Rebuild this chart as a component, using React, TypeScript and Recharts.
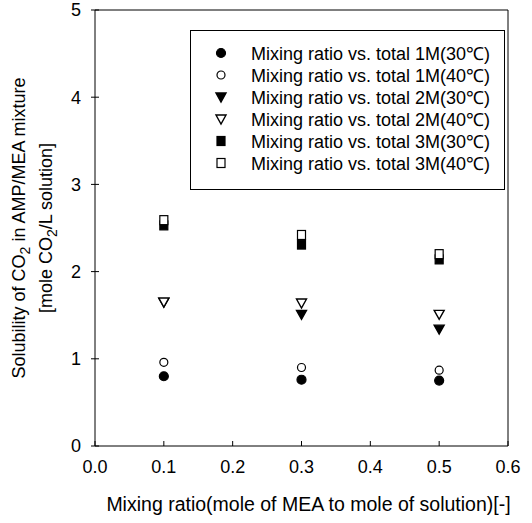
import React from 'react';
import { ScatterChart, Scatter, XAxis, YAxis, Legend, ReferenceLine } from 'recharts';

// mixing ratio (mole MEA / mole solution)
const ratios = [0.1, 0.3, 0.5];

// solubility [mole CO2 / L solution]
const total1M30 = [0.8, 0.76, 0.75];
const total1M40 = [0.96, 0.9, 0.87];
const total2M30 = [1.65, 1.51, 1.34];
const total2M40 = [1.65, 1.64, 1.51];
const total3M30 = [2.53, 2.31, 2.14];
const total3M40 = [2.59, 2.42, 2.2];

const xTicks = [0, 0.1, 0.2, 0.3, 0.4, 0.5, 0.6];
const yTicks = [0, 1, 2, 3, 4, 5];

const FONT = '"Liberation Sans", Arial, sans-serif';

type Kind = 'circle' | 'triangle' | 'square';

const seriesDefs: { name: string; values: number[]; kind: Kind; filled: boolean }[] = [
  { name: 'Mixing ratio vs. total 1M(30\u2103)', values: total1M30, kind: 'circle', filled: true },
  { name: 'Mixing ratio vs. total 1M(40\u2103)', values: total1M40, kind: 'circle', filled: false },
  { name: 'Mixing ratio vs. total 2M(30\u2103)', values: total2M30, kind: 'triangle', filled: true },
  { name: 'Mixing ratio vs. total 2M(40\u2103)', values: total2M40, kind: 'triangle', filled: false },
  { name: 'Mixing ratio vs. total 3M(30\u2103)', values: total3M30, kind: 'square', filled: true },
  { name: 'Mixing ratio vs. total 3M(40\u2103)', values: total3M40, kind: 'square', filled: false },
];

const markerPath = (kind: Kind, filled: boolean, cx: number, cy: number) => {
  const fill = filled ? '#000' : '#fff';
  if (kind === 'circle') {
    return <circle cx={cx} cy={cy} r={filled ? 4.5 : 4} fill={fill} stroke="#000" strokeWidth={1.2} />;
  }
  if (kind === 'triangle') {
    const pts = `${cx - 5},${cy - 4} ${cx + 5},${cy - 4} ${cx},${cy + 5}`;
    return <polygon points={pts} fill={fill} stroke="#000" strokeWidth={1.4} />;
  }
  return <rect x={cx - 4} y={cy - 4.5} width={8} height={9} fill={fill} stroke="#000" strokeWidth={1.2} />;
};

const makeShape = (kind: Kind, filled: boolean) => (props: any) => {
  const { cx, cy } = props;
  return markerPath(kind, filled, cx, cy);
};

const XTick = ({ x, y, payload }: any) => (
  <g>
    <line x1={x} x2={x} y1={y - 14} y2={y - 19} stroke="#000" />
    <text x={x} y={y} dy="0.71em" textAnchor="middle" fontFamily={FONT} fontSize={18} fill="#000">
      {Number(payload.value).toFixed(1)}
    </text>
  </g>
);

const YTick = ({ x, y, payload }: any) => (
  <g>
    <line x1={x + 10} x2={x + 18} y1={y} y2={y} stroke="#000" />
    <text x={x} y={y} dy="0.35em" textAnchor="end" fontFamily={FONT} fontSize={18} fill="#000">
      {payload.value}
    </text>
  </g>
);

const LegendBox = ({ payload }: any) => (
  <div
    style={{
      width: 315,
      height: 160,
      border: '1px solid #000',
      boxSizing: 'border-box',
      paddingTop: 11,
      fontFamily: FONT,
      fontSize: 18,
      background: '#fff',
    }}
  >
    {(payload || []).map((entry: any) => {
      const def = seriesDefs.find((d) => d.name === entry.value)!;
      return (
        <div key={entry.value} style={{ height: 22, display: 'flex', alignItems: 'center' }}>
          <svg width={60} height={22} style={{ flex: 'none' }}>
            {markerPath(def.kind, def.filled, 30, 11)}
          </svg>
          <span style={{ whiteSpace: 'nowrap', color: '#000' }}>{entry.value}</span>
        </div>
      );
    })}
  </div>
);

const YTitle = ({ viewBox }: any) => {
  const cy = viewBox.y + viewBox.height / 2;
  return (
    <g fontFamily={FONT} fontSize={18} fill="#000">
      <text x={19} y={cy} textAnchor="middle" transform={`rotate(-90 19 ${cy})`} dy="0.35em">
        Solubility of CO<tspan dy={5} fontSize={14}>2</tspan>
        <tspan dy={-5}> in AMP/MEA mixture</tspan>
      </text>
      <text x={46} y={cy} textAnchor="middle" transform={`rotate(-90 46 ${cy})`} dy="0.35em">
        [mole CO<tspan dy={5} fontSize={14}>2</tspan>
        <tspan dy={-5}>/L solution]</tspan>
      </text>
    </g>
  );
};

const XTitle = ({ viewBox }: any) => (
  <text
    x={viewBox.x + viewBox.width / 2 + 7}
    y={511}
    textAnchor="middle"
    fontFamily={FONT}
    fontSize={19.5}
    fill="#000"
  >
    Mixing ratio(mole of MEA to mole of solution)[-]
  </text>
);

export default function App() {
  return (
    <div style={{ position: 'absolute', left: 0, top: 0, background: '#fff' }}>
      <ScatterChart width={532} height={523} margin={{ top: 10, right: 24, bottom: 37, left: 0 }}>
        <XAxis
          type="number"
          dataKey="x"
          domain={[0, 0.6]}
          ticks={xTicks}
          interval={0}
          height={40}
          tickSize={0}
          tickLine={false}
          tickMargin={14}
          tick={<XTick />}
          axisLine={{ stroke: '#000' }}
          label={<XTitle />}
        />
        <YAxis
          type="number"
          dataKey="y"
          domain={[0, 5]}
          ticks={yTicks}
          interval={0}
          width={95}
          tickSize={0}
          tickLine={false}
          tickMargin={14}
          tick={<YTick />}
          axisLine={{ stroke: '#000' }}
          label={<YTitle />}
        />
        <ReferenceLine y={5} stroke="#000" />
        <ReferenceLine x={0.6} stroke="#000" />
        {seriesDefs.map((d) => (
          <Scatter
            key={d.name}
            name={d.name}
            data={ratios.map((x, i) => ({ x, y: d.values[i] }))}
            shape={makeShape(d.kind, d.filled)}
            isAnimationActive={false}
          />
        ))}
        <Legend
          layout="vertical"
          align="center"
          verticalAlign="middle"
          content={<LegendBox />}
          wrapperStyle={{ left: 190, top: 30, width: 315, height: 160 }}
        />
      </ScatterChart>
    </div>
  );
}
